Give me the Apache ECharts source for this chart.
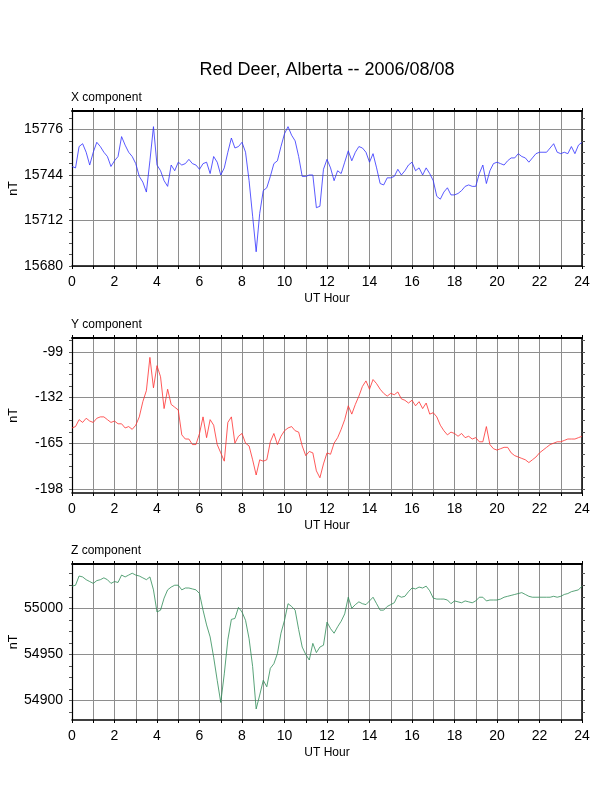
<!DOCTYPE html>
<html>
<head>
<meta charset="utf-8">
<script src="https://cdn.jsdelivr.net/npm/echarts@6/dist/echarts.min.js"></script>
<style>
html, body { margin: 0; padding: 0; background: #fff; }
#chart { width: 612px; height: 792px; }
</style>
</head>
<body>
<div id="chart"></div>
<script>
// 10-minute samples, 00:00 .. 24:00 UT
var X_VALUES = [
    15750, 15749, 15764, 15766, 15760, 15751, 15760, 15767, 15764, 15760, 15757, 15750,
    15754, 15757, 15771, 15765, 15760, 15757, 15752, 15743, 15739, 15732, 15754, 15778,
    15751, 15747, 15740, 15736, 15751, 15747, 15753, 15751, 15752, 15755, 15752, 15751,
    15748, 15752, 15753, 15745, 15757, 15753, 15744, 15749, 15760, 15770, 15763, 15764,
    15767, 15760, 15740, 15715, 15690, 15717, 15733, 15735, 15743, 15752, 15754, 15764,
    15773, 15778, 15772, 15768, 15757, 15743, 15743, 15744, 15744, 15721, 15722, 15748,
    15755, 15749, 15740, 15747, 15745, 15753, 15761, 15754, 15760, 15764, 15763, 15760,
    15753, 15759, 15749, 15738, 15737, 15742, 15742, 15743, 15748, 15744, 15747, 15751,
    15753, 15747, 15749, 15744, 15749, 15745, 15740, 15729, 15727, 15732, 15735, 15730,
    15730, 15731, 15733, 15736, 15737, 15736, 15736, 15745, 15751, 15738, 15747, 15752,
    15753, 15752, 15751, 15754, 15756, 15756, 15759, 15757, 15756, 15753, 15756, 15759,
    15760, 15760, 15760, 15763, 15766, 15760, 15759, 15760, 15759, 15764, 15759, 15765,
    15767
];
var Y_VALUES = [
    -154, -153, -148, -150, -147, -149, -150, -147, -146, -146, -148, -150,
    -149, -151, -151, -154, -153, -155, -152, -146, -135, -127, -103, -125,
    -109, -117, -140, -126, -137, -139, -141, -159, -162, -162, -166, -166,
    -158, -146, -161, -148, -152, -166, -172, -178, -150, -146, -165, -160,
    -158, -165, -167, -177, -188, -177, -178, -177, -164, -158, -166, -160,
    -156, -154, -153, -156, -157, -167, -174, -171, -172, -185, -190, -180,
    -172, -173, -165, -161, -155, -148, -138, -144, -137, -131, -124, -120,
    -126, -119, -122, -126, -129, -131, -129, -130, -128, -133, -134, -136,
    -134, -138, -135, -140, -136, -144, -143, -146, -152, -156, -159, -157,
    -158, -160, -158, -161, -160, -162, -161, -164, -164, -153, -166, -169,
    -170, -169, -168, -168, -172, -174, -175, -176, -177, -179, -177, -175,
    -172, -170, -168, -166, -165, -164, -164, -163, -162, -162, -162, -161,
    -160
];
var Z_VALUES = [
    55024, 55025, 55035, 55034, 55031, 55029, 55027, 55030, 55031, 55033, 55031, 55027,
    55029, 55028, 55036, 55034, 55036, 55038, 55036, 55035, 55033, 55031, 55034, 55020,
    54996, 54998, 55011, 55020, 55023, 55025, 55025, 55020, 55022, 55022, 55021, 55020,
    55016, 54998, 54982, 54969, 54947, 54922, 54898, 54929, 54966, 54988, 54989, 55001,
    54996, 54987, 54967, 54937, 54891, 54906, 54922, 54915, 54935, 54940, 54951, 54973,
    54987, 55005, 55002, 54998, 54977, 54958, 54950, 54944, 54962, 54952, 54958, 54960,
    54985, 54978, 54973, 54980, 54986, 54994, 55012, 55000, 55004, 55007, 55005, 55004,
    55008, 55012, 55005, 54998, 54998, 55002, 55004, 55006, 55014, 55012, 55013, 55018,
    55022, 55021, 55023, 55022, 55024, 55019, 55011, 55010, 55010, 55010, 55009, 55005,
    55008, 55007, 55006, 55008, 55007, 55006, 55008, 55012, 55012, 55008, 55009, 55009,
    55009, 55010, 55012, 55013, 55014, 55015, 55016, 55017, 55015, 55013, 55012, 55012,
    55012, 55012, 55012, 55012, 55013, 55012, 55013, 55015, 55016, 55018, 55019, 55020,
    55024
];
var HOURS = X_VALUES.map(function (v, i) { return i / 6; });

// y axis ranges and labelled ticks
var X_RANGE = [15680, 15789], X_TICKS = [15680, 15712, 15744, 15776], X_MINOR = 8;
var Y_RANGE = [-201, -89], Y_TICKS = [-198, -165, -132, -99], Y_MINOR = 8.25;
var Z_RANGE = [54879, 55048], Z_TICKS = [54900, 54950, 55000], Z_MINOR = 12.5;

var FONT = '"Liberation Sans", Helvetica, Arial, sans-serif';
var GRID_COLOR = '#8e8e8e';

var panels = [
    {name: 'X component', values: X_VALUES, range: X_RANGE, ticks: X_TICKS, minor: X_MINOR, color: '#3030ff', top: 111, height: 155},
    {name: 'Y component', values: Y_VALUES, range: Y_RANGE, ticks: Y_TICKS, minor: Y_MINOR, color: '#ff3030', top: 338, height: 155},
    {name: 'Z component', values: Z_VALUES, range: Z_RANGE, ticks: Z_TICKS, minor: Z_MINOR, color: '#2e8b57', top: 564, height: 156}
];

function minorTicks(p) {
    var out = [];
    var v = p.ticks[0];
    while (v - p.minor >= p.range[0]) v -= p.minor;
    for (; v <= p.range[1]; v += p.minor) out.push(+v.toFixed(3));
    return out;
}
function plain(v) { return String(v); }

var titles = [{
    text: 'Red Deer, Alberta -- 2006/08/08',
    left: 322, top: 56, textAlign: 'center',
    textStyle: {fontFamily: FONT, fontSize: 18, fontWeight: 'normal', color: '#000'}
}];
var grids = [], xAxes = [], yAxes = [], series = [];

panels.forEach(function (p, i) {
    var minor = minorTicks(p);
    titles.push({
        text: p.name, left: 71, top: p.top - 19, padding: 0,
        textStyle: {fontFamily: FONT, fontSize: 12, fontWeight: 'normal', color: '#000'}
    });
    grids.push({left: 72, width: 510, top: p.top, height: p.height, outerBoundsMode: 'none', containLabel: false});

    xAxes.push({
        gridIndex: i, type: 'value', position: 'bottom', min: 0, max: 24, interval: 2,
        name: 'UT Hour', nameLocation: 'middle', nameGap: 27, nameMoveOverlap: false,
        nameTextStyle: {fontFamily: FONT, fontSize: 12, color: '#000'},
        axisLine: {onZero: false, lineStyle: {color: '#000', width: 1.5}},
        axisTick: {length: 3, lineStyle: {color: '#000'}},
        minorTick: {show: true, splitNumber: 2, length: 3, lineStyle: {color: '#000'}},
        splitLine: {show: true, lineStyle: {color: GRID_COLOR, width: 1}},
        minorSplitLine: {show: true, lineStyle: {color: GRID_COLOR, width: 1}},
        axisLabel: {fontFamily: FONT, fontSize: 14, color: '#000', margin: 9, formatter: plain}
    });
    xAxes.push({
        gridIndex: i, type: 'value', position: 'top', min: 0, max: 24, interval: 1,
        axisLine: {onZero: false, lineStyle: {color: '#000', width: 1.8}},
        axisTick: {length: 3, lineStyle: {color: '#000'}},
        axisLabel: {show: false}, splitLine: {show: false}
    });

    yAxes.push({
        gridIndex: i, type: 'value', position: 'left', min: p.range[0], max: p.range[1],
        name: 'nT', nameLocation: 'middle', nameRotate: 90, nameGap: 52, nameMoveOverlap: false,
        nameTextStyle: {fontFamily: FONT, fontSize: 12.5, color: '#000'},
        axisLine: {show: true, onZero: false, lineStyle: {color: '#000', width: 1.2}},
        axisTick: {show: true, length: 3, customValues: p.ticks, lineStyle: {color: '#000'}},
        axisLabel: {customValues: p.ticks, fontFamily: FONT, fontSize: 14, color: '#000', margin: 9, formatter: plain},
        splitLine: {show: true, lineStyle: {color: GRID_COLOR, width: 1}}
    });
    yAxes.push({
        gridIndex: i, type: 'value', position: 'left', min: p.range[0], max: p.range[1],
        axisLine: {show: false},
        axisTick: {show: true, length: 3, customValues: minor, lineStyle: {color: '#555'}},
        axisLabel: {show: false}, splitLine: {show: false}
    });
    yAxes.push({
        gridIndex: i, type: 'value', position: 'right', min: p.range[0], max: p.range[1],
        axisLine: {show: true, onZero: false, lineStyle: {color: '#000', width: 1.5}},
        axisTick: {show: true, length: 3, customValues: minor, lineStyle: {color: '#555'}},
        axisLabel: {show: false}, splitLine: {show: false}
    });

    series.push({
        type: 'line', xAxisIndex: 2 * i, yAxisIndex: 3 * i,
        data: HOURS.map(function (h, k) { return [h, p.values[k]]; }),
        showSymbol: false, symbol: 'none', silent: true,
        lineStyle: {width: 0.8, color: p.color}
    });
});

var chart = echarts.init(document.getElementById('chart'));
chart.setOption({
    animation: false,
    backgroundColor: '#fff',
    title: titles,
    grid: grids,
    xAxis: xAxes,
    yAxis: yAxes,
    series: series
});
</script>
</body>
</html>
